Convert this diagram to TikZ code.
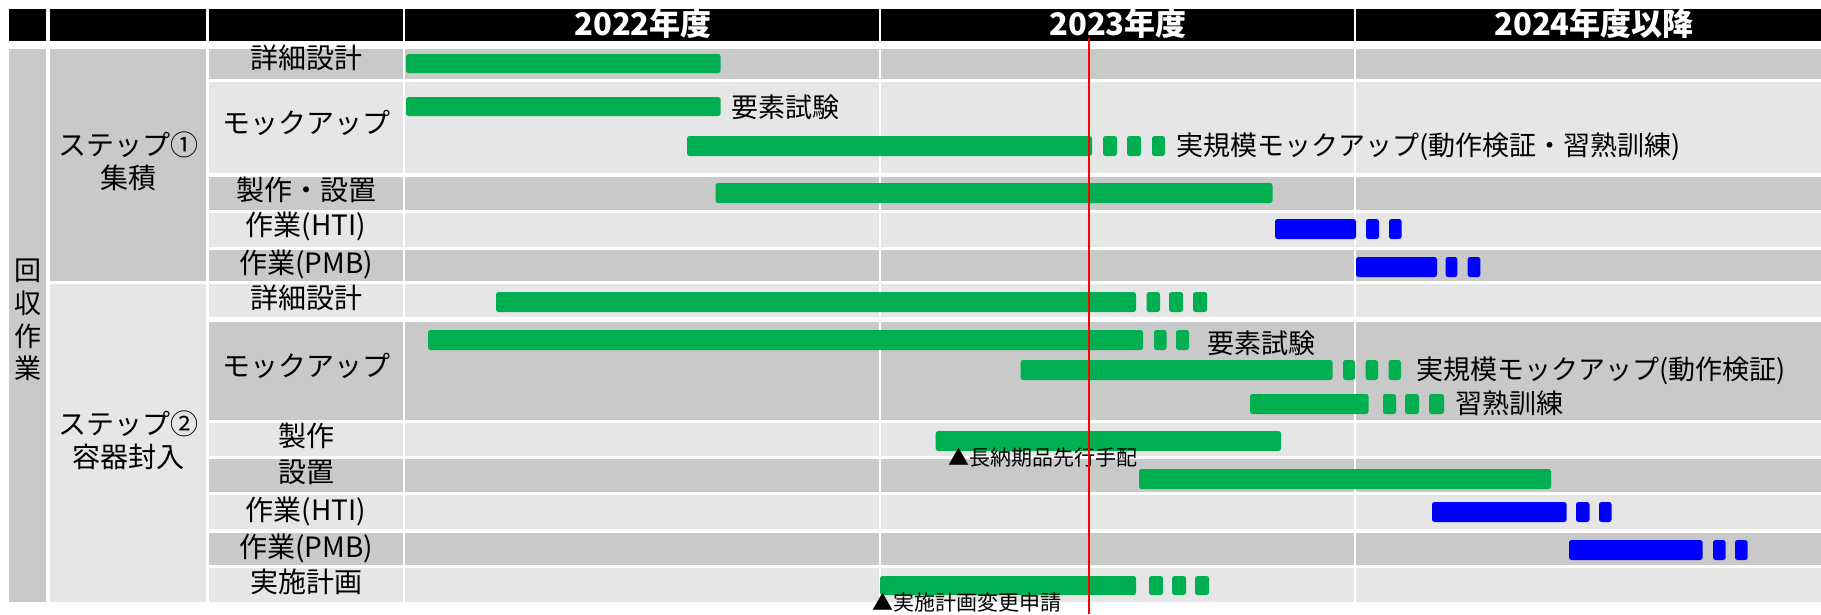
\documentclass[tikz,border=0pt]{standalone}
\usepackage{fontspec}
\setmainfont{Noto Sans CJK JP}
\definecolor{dk}{HTML}{C9C9C9}
\definecolor{lt}{HTML}{E6E6E6}
\definecolor{ggreen}{HTML}{00B050}
\definecolor{gblue}{HTML}{0000FF}
\definecolor{gred}{HTML}{FF0000}
\tikzset{
  gb/.style={fill=ggreen, rounded corners=2.5pt},
  bb/.style={fill=gblue, rounded corners=2.5pt},
  rowlab/.style={inner sep=0pt, font=\fontsize{28}{33}\selectfont},
  hdr/.style={inner sep=0pt, text=white, font=\fontsize{31}{36}\selectfont\bfseries},
  note/.style={inner sep=0pt, anchor=west, font=\fontsize{27}{32}\selectfont},
  small/.style={inner sep=0pt, anchor=west, font=\fontsize{21}{25}\selectfont},
}
\begin{document}
\begin{tikzpicture}[x=1pt,y=-1pt]
\useasboundingbox (0,0) rectangle (1821,614);
\fill[white] (0,0) rectangle (1821,614);
% header
\foreach \a/\b in {9/46,50/206,209/403,405/879,881/1354,1356/1821}
  \fill[black] (\a,9) rectangle (\b,41);
\node[hdr] (y22) at (643,24) {2022年度};
\node[hdr] (y23) at (1118,24) {2023年度};
\node[hdr] (y24) at (1594,24) {2024年度以降};
% rows
\foreach \t/\b/\c in {49/79/dk,82/173/lt,177/210/dk,213/247/lt,250/281/dk,284/317/lt,322/420/dk,423/456/lt,459/492/dk,495/529/lt,533/565/dk,568/602/lt}{
  \fill[\c] (209,\t) rectangle (403,\b);
  \fill[\c] (405,\t) rectangle (879,\b);
  \fill[\c] (881,\t) rectangle (1354,\b);
  \fill[\c] (1356,\t) rectangle (1821,\b);
}
\fill[dk] (9,49) rectangle (46,602);
\fill[dk] (50,49) rectangle (206,281);
\fill[lt] (50,284) rectangle (206,602);
% left labels
\node[rowlab, align=center, font=\fontsize{27}{32.7}\selectfont] (kaishu) at (28,320) {回\\収\\作\\業};
\node[rowlab, align=center] (st1) at (128,161) {ステップ①\\集積};
\node[rowlab, align=center] (st2) at (128,440) {ステップ②\\容器封入};
\node[rowlab] (r1) at (306,58) {詳細設計};
\node[rowlab] (r2) at (306,123) {モックアップ};
\node[rowlab] (r3) at (306,190) {製作・設置};
\node[rowlab] (r4) at (306,226) {作業(HTI)};
\node[rowlab] (r5) at (306,264) {作業(PMB)};
\node[rowlab] (r6) at (306,298) {詳細設計};
\node[rowlab] (r7) at (306,366) {モックアップ};
\node[rowlab] (r8) at (306,436) {製作};
\node[rowlab] (r9) at (306,472) {設置};
\node[rowlab] (r10) at (306,511) {作業(HTI)};
\node[rowlab] (r11) at (306,548) {作業(PMB)};
\node[rowlab] (r12) at (306,582) {実施計画};
% bars
\fill[gb] (406,54) rectangle (720.6,73);
\fill[gb] (406,97) rectangle (720.6,116);
\node[note] (n1) at (731,107) {要素試験};
\fill[gb] (687,136) rectangle (1092,156);
\fill[gb] (1103,136) rectangle (1117,156);
\fill[gb] (1127,136) rectangle (1141,156);
\fill[gb] (1152,136) rectangle (1165,156);
\node[note] (n2) at (1176,147) {実規模モックアップ(動作検証・習熟訓練)};
\fill[gb] (715.5,183) rectangle (1272.5,203);
\fill[bb] (1275,219) rectangle (1356,239);
\fill[bb] (1366,219) rectangle (1379,239);
\fill[bb] (1389,219) rectangle (1401.6,239);
\fill[bb] (1356,257) rectangle (1437,277);
\fill[bb] (1445.5,257) rectangle (1457.4,277);
\fill[bb] (1467.7,257) rectangle (1480.4,277);
\fill[gb] (496,292) rectangle (1136,312);
\fill[gb] (1146.6,292) rectangle (1160,312);
\fill[gb] (1169,292) rectangle (1183,312);
\fill[gb] (1193,292) rectangle (1207,312);
\fill[gb] (428,330) rectangle (1143,350);
\fill[gb] (1154,330) rectangle (1166.5,350);
\fill[gb] (1176,330) rectangle (1189,350);
\node[note] (n3) at (1207,343) {要素試験};
\fill[gb] (1020.5,360) rectangle (1332.5,380);
\fill[gb] (1343,360) rectangle (1355,380);
\fill[gb] (1365.5,360) rectangle (1378,380);
\fill[gb] (1388.5,360) rectangle (1401,380);
\node[note] (n4) at (1416,371) {実規模モックアップ(動作検証)};
\fill[gb] (1250,394) rectangle (1368.6,414);
\fill[gb] (1383,394) rectangle (1396,414);
\fill[gb] (1405,394) rectangle (1419,414);
\fill[gb] (1429,394) rectangle (1444,414);
\node[note] (n5) at (1455.5,403) {習熟訓練};
\fill[gb] (935.7,431) rectangle (1281,451);
\node[small] (n6) at (948,458) {▲長納期品先行手配};
\fill[gb] (1139,469) rectangle (1551,489);
\fill[bb] (1432,502) rectangle (1566.5,522);
\fill[bb] (1576,502) rectangle (1589.5,522);
\fill[bb] (1599,502) rectangle (1611.5,522);
\fill[bb] (1569,540) rectangle (1702.6,560);
\fill[bb] (1713,540) rectangle (1725.6,560);
\fill[bb] (1735,540) rectangle (1747.6,560);
\fill[gb] (880,576) rectangle (1136,595);
\fill[gb] (1149,576) rectangle (1163,595);
\fill[gb] (1172,576) rectangle (1186,595);
\fill[gb] (1195,576) rectangle (1209,595);
\node[small] (n7) at (872,603) {▲実施計画変更申請};
% today line
\coordinate (rtop) at (1089,38);
\coordinate (rbot) at (1089,614);
\draw[gred, line width=2pt] (rtop) -- (rbot);
\end{tikzpicture}
\end{document}
